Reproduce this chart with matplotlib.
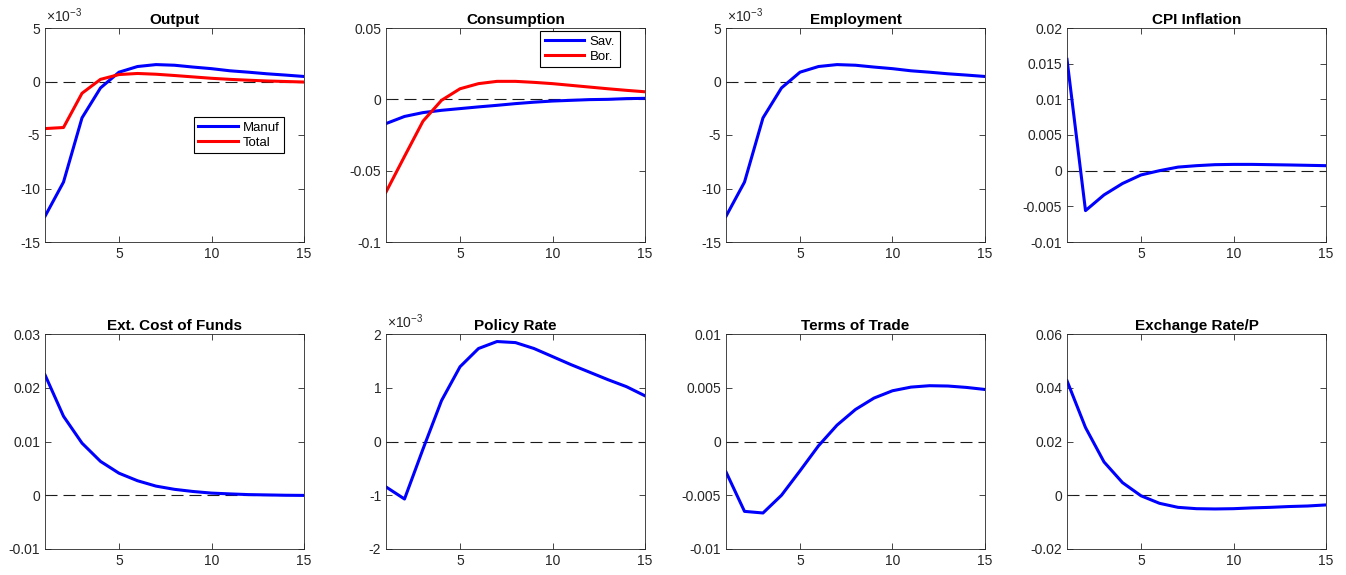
import numpy as np
import matplotlib.pyplot as plt
from matplotlib.ticker import FuncFormatter

plt.rcParams['font.family'] = ['Liberation Sans', 'DejaVu Sans']
plt.rcParams['axes.unicode_minus'] = False
plt.rcParams['mathtext.fontset'] = 'custom'
plt.rcParams['mathtext.rm'] = 'Liberation Sans'

periods = np.arange(1, 16)

# Impulse responses
output_manuf = [-12.6e-3, -9.4e-3, -3.4e-3, -0.6e-3, 0.87e-3, 1.4e-3, 1.58e-3, 1.52e-3,
                1.35e-3, 1.2e-3, 1.0e-3, 0.87e-3, 0.72e-3, 0.6e-3, 0.47e-3]
output_total = [-4.4e-3, -4.3e-3, -1.1e-3, 0.2e-3, 0.65e-3, 0.75e-3, 0.68e-3, 0.56e-3,
                0.43e-3, 0.3e-3, 0.2e-3, 0.12e-3, 0.05e-3, 0.0, -0.05e-3]
cons_sav = [-0.017, -0.012, -0.0093, -0.0077, -0.0065, -0.0053, -0.0042, -0.003,
            -0.002, -0.0012, -0.0007, -0.0002, 0.0, 0.0005, 0.0007]
cons_bor = [-0.065, -0.040, -0.0153, -0.0007, 0.0074, 0.011, 0.0126, 0.0126,
            0.0119, 0.011, 0.0098, 0.0086, 0.0074, 0.0063, 0.0053]
employment = [-12.6e-3, -9.4e-3, -3.4e-3, -0.6e-3, 0.87e-3, 1.4e-3, 1.58e-3, 1.52e-3,
              1.35e-3, 1.2e-3, 1.0e-3, 0.87e-3, 0.72e-3, 0.6e-3, 0.47e-3]
cpi_inflation = [0.0156, -0.0056, -0.0034, -0.0018, -0.0006, 0.0, 0.0005, 0.0007,
                 0.00084, 0.00088, 0.00088, 0.00084, 0.0008, 0.00075, 0.0007]
ext_cost = [0.0224, 0.0147, 0.0097, 0.0063, 0.0041, 0.0027, 0.0017, 0.0011,
            0.0007, 0.0004, 0.00025, 0.00012, 0.00006, 0.0, -0.00003]
policy_rate = [-0.845e-3, -1.07e-3, -0.14e-3, 0.76e-3, 1.39e-3, 1.73e-3, 1.86e-3, 1.84e-3,
               1.73e-3, 1.58e-3, 1.43e-3, 1.29e-3, 1.15e-3, 1.02e-3, 0.85e-3]
terms_of_trade = [-0.00283, -0.0065, -0.00665, -0.005, -0.00273, -0.0004, 0.00152, 0.00298,
                  0.00404, 0.00472, 0.00506, 0.00519, 0.00516, 0.00503, 0.00484]
exchange_rate = [0.0426, 0.0252, 0.0124, 0.0047, -0.0002, -0.003, -0.0045, -0.005,
                 -0.0051, -0.005, -0.0047, -0.0045, -0.0042, -0.004, -0.0036]

titles = ['Output', 'Consumption', 'Employment', 'CPI Inflation',
          'Ext. Cost of Funds', 'Policy Rate', 'Terms of Trade', 'Exchange Rate/P']
yticks = [np.arange(-15e-3, 5.1e-3, 5e-3), np.arange(-0.1, 0.051, 0.05),
          np.arange(-15e-3, 5.1e-3, 5e-3), np.arange(-0.01, 0.0201, 0.005),
          np.arange(-0.01, 0.0301, 0.01), np.arange(-2e-3, 2.1e-3, 1e-3),
          np.arange(-0.01, 0.0101, 0.005), np.arange(-0.02, 0.0601, 0.02)]
sci = [True, False, True, False, False, True, False, False]

fig = plt.figure(figsize=(13.46, 5.75), dpi=100)
lefts = [45, 386, 726, 1067]
axes = []
for r, (top, bot) in enumerate([(28, 242), (334, 549)]):
    for c in range(4):
        ax = fig.add_axes([lefts[c] / 1346, 1 - bot / 575, 259 / 1346, (bot - top) / 575])
        axes.append(ax)

edge = '0.15'
for i, ax in enumerate(axes):
    ax.set_xlim(1, 15)
    ax.set_xticks([5, 10, 15])
    yt = np.round(yticks[i], 6)
    ax.set_ylim(yt[0], yt[-1])
    ax.set_yticks(yt)
    if sci[i]:
        ax.yaxis.set_major_formatter(FuncFormatter(lambda v, p: '%g' % round(v * 1e3, 4)))
        ax.text(0.005, 1.012, r'$\times$10$^{-3}$', transform=ax.transAxes,
                fontsize=10, color=edge, ha='left', va='bottom')
    else:
        ax.yaxis.set_major_formatter(FuncFormatter(lambda v, p: '%g' % round(v, 6)))
    ax.tick_params(direction='in', top=True, right=True, length=4, width=0.6,
                   labelsize=10, colors=edge, labelcolor=edge)
    for s in ax.spines.values():
        s.set_color(edge)
        s.set_linewidth(0.6)
    ax.set_title(titles[i], fontsize=11, fontweight='bold', pad=3)
    ax.axhline(0, color='0.1', lw=0.8, linestyle=(0, (10.8, 5.4)), zorder=1)

lw = 2.2
axes[0].plot(periods, output_manuf, color='b', lw=lw, label='Manuf')
axes[0].plot(periods, output_total, color='r', lw=lw, label='Total')
axes[1].plot(periods, cons_sav, color='b', lw=lw, label='Sav.')
axes[1].plot(periods, cons_bor, color='r', lw=lw, label='Bor.')
axes[2].plot(periods, employment, color='b', lw=lw)
axes[3].plot(periods, cpi_inflation, color='b', lw=lw)
axes[4].plot(periods, ext_cost, color='b', lw=lw)
axes[5].plot(periods, policy_rate, color='b', lw=lw)
axes[6].plot(periods, terms_of_trade, color='b', lw=lw)
axes[7].plot(periods, exchange_rate, color='b', lw=lw)

for ax, anchor in [(axes[0], (0.749, 0.50)), (axes[1], (0.749, 0.902))]:
    leg = ax.legend(loc='center', bbox_to_anchor=anchor, fontsize=9.5, fancybox=False,
                    framealpha=1, edgecolor='k', handlelength=3.0, borderpad=0.35,
                    labelspacing=0.2, handletextpad=0.4)
    leg.get_frame().set_linewidth(0.8)

plt.savefig('out.png', dpi=100)
